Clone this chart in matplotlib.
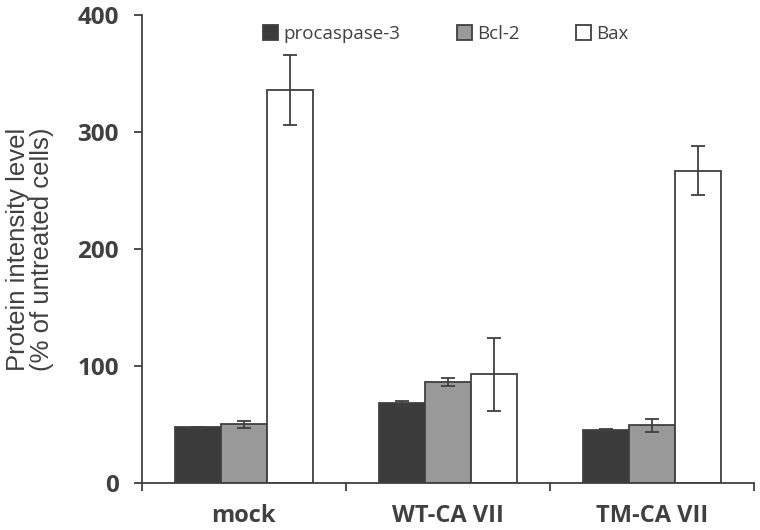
import numpy as np
import matplotlib.pyplot as plt

# ---- data -----------------------------------------------------------------
groups = ['mock', 'WT-CA VII', 'TM-CA VII']
series = ['procaspase-3', 'Bcl-2', 'Bax']
procaspase = [48, 68.5, 45.5]
procaspase_err = [0.5, 2, 0.8]
bcl2 = [50.5, 86.5, 49.5]
bcl2_err = [3, 3.5, 5.5]
bax = [336, 93, 267]
bax_err = [30, 31, 21]

colors = ['#3b3b3b', '#999999', '#ffffff']
edge = '#404040'

# ---- plot -----------------------------------------------------------------
fig = plt.figure(figsize=(7.6, 5.3), dpi=100)
ax = fig.add_axes([0.1865, 0.088, 0.806, 0.8836])

x = np.arange(len(groups)) + 0.5
w = 0.225
vals = [procaspase, bcl2, bax]
errs = [procaspase_err, bcl2_err, bax_err]
for i, (v, e) in enumerate(zip(vals, errs)):
    ax.bar(x + (i - 1) * w, v, w, color=colors[i], edgecolor=edge, linewidth=1.3,
           label=series[i], yerr=e, capsize=5,
           error_kw=dict(ecolor=edge, elinewidth=1.3, capthick=1.3))

ax.set_xlim(0, 3)
ax.set_ylim(0, 400)
ax.set_yticks([0, 100, 200, 300, 400])
ax.set_xticks([0, 1, 2, 3])
ax.set_xticklabels([])
ax.set_xticks(x, minor=True)
ax.set_xticklabels(groups, minor=True, fontfamily='Open Sans', fontweight='bold',
                   fontsize=17, color='#404040')
ax.tick_params(axis='x', which='minor', length=0, pad=15)
ax.tick_params(axis='x', which='major', direction='out', length=5.5, width=1.3, color=edge)
ax.tick_params(axis='y', direction='out', length=5.8, width=1.3, color=edge, pad=10.5)
for lab in ax.get_yticklabels():
    lab.set_fontfamily('Open Sans')
    lab.set_fontweight('bold')
    lab.set_fontsize(17.5)
    lab.set_color('#404040')

for s in ['top', 'right']:
    ax.spines[s].set_visible(False)
for s in ['left', 'bottom']:
    ax.spines[s].set_color(edge)
    ax.spines[s].set_linewidth(1.3)

ax.set_ylabel('Protein intensity level\n(% of untreated cells)', fontfamily='Liberation Sans',
              fontsize=18.5, color='#404040', labelpad=17, linespacing=1.0)

leg = ax.legend(loc='upper left', bbox_to_anchor=(0.17, 1.015), ncol=3, frameon=False,
                handlelength=0.8, handleheight=0.8, handletextpad=0.3, columnspacing=3.0,
                prop={'family': 'Open Sans', 'size': 13.5})
for t in leg.get_texts():
    t.set_color('#404040')

fig.savefig('out.png', dpi=100)
